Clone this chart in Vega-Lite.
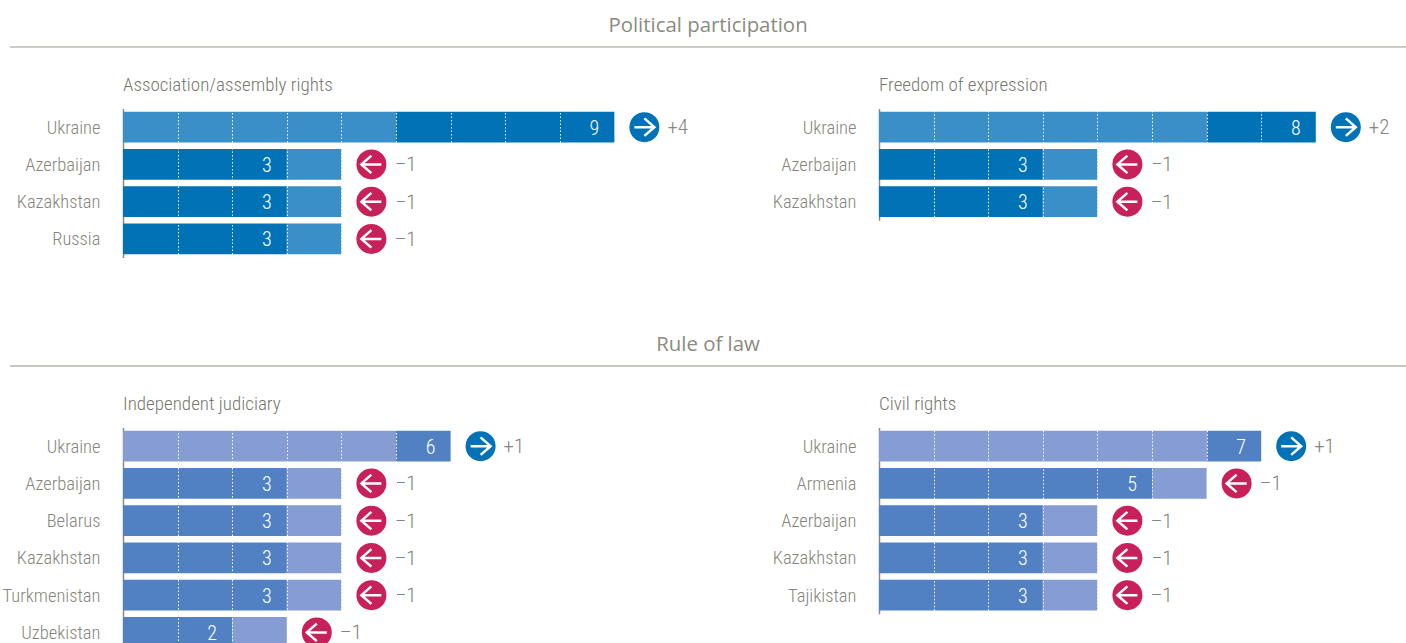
{"$schema":"https://vega.github.io/schema/vega-lite/v6.json","background":"white","padding":{"left":1,"top":0,"right":0,"bottom":0},"bounds":"flush","align":"each","columns":2,"spacing":{"row":61.5,"column":0},"config":{"view":{"stroke":null}},
"datasets":{
"assoc":[
{"country":"Ukraine","score":9,"changeLabel":"+4","lightFrom":0,"lightTo":5,"darkFrom":5,"darkTo":9,"end":9,"direction":"up"},
{"country":"Azerbaijan","score":3,"changeLabel":"–1","lightFrom":3,"lightTo":4,"darkFrom":0,"darkTo":3,"end":4,"direction":"down"},
{"country":"Kazakhstan","score":3,"changeLabel":"–1","lightFrom":3,"lightTo":4,"darkFrom":0,"darkTo":3,"end":4,"direction":"down"},
{"country":"Russia","score":3,"changeLabel":"–1","lightFrom":3,"lightTo":4,"darkFrom":0,"darkTo":3,"end":4,"direction":"down"}],
"expr":[
{"country":"Ukraine","score":8,"changeLabel":"+2","lightFrom":0,"lightTo":6,"darkFrom":6,"darkTo":8,"end":8,"direction":"up"},
{"country":"Azerbaijan","score":3,"changeLabel":"–1","lightFrom":3,"lightTo":4,"darkFrom":0,"darkTo":3,"end":4,"direction":"down"},
{"country":"Kazakhstan","score":3,"changeLabel":"–1","lightFrom":3,"lightTo":4,"darkFrom":0,"darkTo":3,"end":4,"direction":"down"}],
"jud":[
{"country":"Ukraine","score":6,"changeLabel":"+1","lightFrom":0,"lightTo":5,"darkFrom":5,"darkTo":6,"end":6,"direction":"up"},
{"country":"Azerbaijan","score":3,"changeLabel":"–1","lightFrom":3,"lightTo":4,"darkFrom":0,"darkTo":3,"end":4,"direction":"down"},
{"country":"Belarus","score":3,"changeLabel":"–1","lightFrom":3,"lightTo":4,"darkFrom":0,"darkTo":3,"end":4,"direction":"down"},
{"country":"Kazakhstan","score":3,"changeLabel":"–1","lightFrom":3,"lightTo":4,"darkFrom":0,"darkTo":3,"end":4,"direction":"down"},
{"country":"Turkmenistan","score":3,"changeLabel":"–1","lightFrom":3,"lightTo":4,"darkFrom":0,"darkTo":3,"end":4,"direction":"down"},
{"country":"Uzbekistan","score":2,"changeLabel":"–1","lightFrom":2,"lightTo":3,"darkFrom":0,"darkTo":2,"end":3,"direction":"down"}],
"civil":[
{"country":"Ukraine","score":7,"changeLabel":"+1","lightFrom":0,"lightTo":6,"darkFrom":6,"darkTo":7,"end":7,"direction":"up"},
{"country":"Armenia","score":5,"changeLabel":"–1","lightFrom":5,"lightTo":6,"darkFrom":0,"darkTo":5,"end":6,"direction":"down"},
{"country":"Azerbaijan","score":3,"changeLabel":"–1","lightFrom":3,"lightTo":4,"darkFrom":0,"darkTo":3,"end":4,"direction":"down"},
{"country":"Kazakhstan","score":3,"changeLabel":"–1","lightFrom":3,"lightTo":4,"darkFrom":0,"darkTo":3,"end":4,"direction":"down"},
{"country":"Tajikistan","score":3,"changeLabel":"–1","lightFrom":3,"lightTo":4,"darkFrom":0,"darkTo":3,"end":4,"direction":"down"}]
},
"concat":[
{"width":756,"height":47,"data":{"values":[{"section":"Political participation"}]},"layer":[
{"mark":{"type":"rule","color":"#9b9b92","strokeWidth":1.2},"encoding":{"y":{"datum":0,"type":"quantitative","scale":{"domain":[0,1]},"axis":null}}},
{"mark":{"type":"text","font":"Open Sans","fontSize":20.4,"color":"#8b8b80","align":"center","baseline":"middle"},"encoding":{"text":{"field":"section"},"x":{"datum":0.9233,"type":"quantitative","scale":{"domain":[0,1]},"axis":null},"y":{"datum":0.45,"type":"quantitative","scale":{"domain":[0,1]},"axis":null}}}]},
{"width":640,"height":47,"data":{"values":[{"section":"Political participation"}]},"mark":{"type":"rule","color":"#9b9b92","strokeWidth":1.2},"encoding":{"y":{"datum":0,"type":"quantitative","scale":{"domain":[0,1]},"axis":null}}},
{"width":756,"height":149,"data":{"name":"assoc"},"title":{"text":"Association/assembly rights","anchor":"start","frame":"group","dx":113,"offset":14,"font":"Roboto Condensed","fontSize":19,"fontWeight":300,"color":"#77776d"},
"encoding":{"y":{"field":"country","type":"nominal","sort":null,"title":null,"scale":{"paddingInner":0.168,"paddingOuter":0.084},"axis":{"offset":-113,"tickSize":0,"labelPadding":23,"labelOffset":0.5,"labelFont":"Roboto Condensed","labelFontWeight":300,"labelFontSize":18.5,"labelColor":"#85857b","domainColor":"#8a8a80","domainWidth":1.5}}},
"layer":[
{"mark":{"type":"bar","color":"#3a8fc9"},"encoding":{"x":{"field":"lightFrom","type":"quantitative","title":null,"scale":{"domain":[-2.0696,11.777],"nice":false,"zero":false},"axis":{"values":[1,2,3,4,5,6,7,8],"labels":false,"ticks":false,"domain":false,"grid":true,"gridColor":"white","gridDash":[1.5,2],"gridWidth":1,"zindex":1}},"x2":{"field":"lightTo"}}},
{"mark":{"type":"bar","color":"#0072b5"},"encoding":{"x":{"field":"darkFrom","type":"quantitative"},"x2":{"field":"darkTo"}}},
{"mark":{"type":"text","color":"white","font":"Roboto Condensed","fontWeight":300,"fontSize":20,"xOffset":-20,"yOffset":1.5,"align":"center","baseline":"middle"},"encoding":{"x":{"field":"score","type":"quantitative"},"text":{"field":"score"}}},
{"mark":{"type":"circle","size":900,"opacity":1,"xOffset":30},"encoding":{"x":{"field":"end","type":"quantitative"},"color":{"field":"direction","type":"nominal","scale":{"domain":["up","down"],"range":["#0072b5","#c8215a"]},"legend":null}}},
{"mark":{"type":"point","size":400,"filled":false,"stroke":"white","strokeWidth":2.5,"opacity":1,"xOffset":30},"encoding":{"x":{"field":"end","type":"quantitative"},"shape":{"field":"direction","type":"nominal","scale":{"domain":["up","down"],"range":["M-1,0L0.95,0M0,-0.88L1,0L0,0.88","M1,0L-0.95,0M0,-0.88L-1,0L0,0.88"]},"legend":null}}},
{"mark":{"type":"text","color":"#85857b","font":"Roboto Condensed","fontWeight":300,"fontSize":21,"xOffset":53,"yOffset":1,"align":"left","baseline":"middle"},"encoding":{"x":{"field":"end","type":"quantitative"},"text":{"field":"changeLabel"}}}]},
{"width":640,"height":111.75,"data":{"name":"expr"},"title":{"text":"Freedom of expression","anchor":"start","frame":"group","dx":113,"offset":14,"font":"Roboto Condensed","fontSize":19,"fontWeight":300,"color":"#77776d"},
"encoding":{"y":{"field":"country","type":"nominal","sort":null,"title":null,"scale":{"paddingInner":0.168,"paddingOuter":0.084},"axis":{"offset":-113,"tickSize":0,"labelPadding":23,"labelOffset":0.5,"labelFont":"Roboto Condensed","labelFontWeight":300,"labelFontSize":18.5,"labelColor":"#85857b","domainColor":"#8a8a80","domainWidth":1.5}}},
"layer":[
{"mark":{"type":"bar","color":"#3a8fc9"},"encoding":{"x":{"field":"lightFrom","type":"quantitative","title":null,"scale":{"domain":[-2.0696,9.652],"nice":false,"zero":false},"axis":{"values":[1,2,3,4,5,6,7],"labels":false,"ticks":false,"domain":false,"grid":true,"gridColor":"white","gridDash":[1.5,2],"gridWidth":1,"zindex":1}},"x2":{"field":"lightTo"}}},
{"mark":{"type":"bar","color":"#0072b5"},"encoding":{"x":{"field":"darkFrom","type":"quantitative"},"x2":{"field":"darkTo"}}},
{"mark":{"type":"text","color":"white","font":"Roboto Condensed","fontWeight":300,"fontSize":20,"xOffset":-20,"yOffset":1.5,"align":"center","baseline":"middle"},"encoding":{"x":{"field":"score","type":"quantitative"},"text":{"field":"score"}}},
{"mark":{"type":"circle","size":900,"opacity":1,"xOffset":30},"encoding":{"x":{"field":"end","type":"quantitative"},"color":{"field":"direction","type":"nominal","scale":{"domain":["up","down"],"range":["#0072b5","#c8215a"]},"legend":null}}},
{"mark":{"type":"point","size":400,"filled":false,"stroke":"white","strokeWidth":2.5,"opacity":1,"xOffset":30},"encoding":{"x":{"field":"end","type":"quantitative"},"shape":{"field":"direction","type":"nominal","scale":{"domain":["up","down"],"range":["M-1,0L0.95,0M0,-0.88L1,0L0,0.88","M1,0L-0.95,0M0,-0.88L-1,0L0,0.88"]},"legend":null}}},
{"mark":{"type":"text","color":"#85857b","font":"Roboto Condensed","fontWeight":300,"fontSize":21,"xOffset":53,"yOffset":1,"align":"left","baseline":"middle"},"encoding":{"x":{"field":"end","type":"quantitative"},"text":{"field":"changeLabel"}}}]},
{"width":756,"height":47,"data":{"values":[{"section":"Rule of law"}]},"layer":[
{"mark":{"type":"rule","color":"#8d8d84","strokeWidth":1.2},"encoding":{"y":{"datum":0,"type":"quantitative","scale":{"domain":[0,1]},"axis":null}}},
{"mark":{"type":"text","font":"Open Sans","fontSize":20.4,"color":"#8b8b80","align":"center","baseline":"middle"},"encoding":{"text":{"field":"section"},"x":{"datum":0.9233,"type":"quantitative","scale":{"domain":[0,1]},"axis":null},"y":{"datum":0.45,"type":"quantitative","scale":{"domain":[0,1]},"axis":null}}}]},
{"width":640,"height":47,"data":{"values":[{"section":"Rule of law"}]},"mark":{"type":"rule","color":"#8d8d84","strokeWidth":1.2},"encoding":{"y":{"datum":0,"type":"quantitative","scale":{"domain":[0,1]},"axis":null}}},
{"width":756,"height":223.5,"data":{"name":"jud"},"title":{"text":"Independent judiciary","anchor":"start","frame":"group","dx":113,"offset":14,"font":"Roboto Condensed","fontSize":19,"fontWeight":300,"color":"#77776d"},
"encoding":{"y":{"field":"country","type":"nominal","sort":null,"title":null,"scale":{"paddingInner":0.168,"paddingOuter":0.084},"axis":{"offset":-113,"tickSize":0,"labelPadding":23,"labelOffset":0.5,"labelFont":"Roboto Condensed","labelFontWeight":300,"labelFontSize":18.5,"labelColor":"#85857b","domainColor":"#8a8a80","domainWidth":1.5}}},
"layer":[
{"mark":{"type":"bar","color":"#859dd2"},"encoding":{"x":{"field":"lightFrom","type":"quantitative","title":null,"scale":{"domain":[-2.0696,11.777],"nice":false,"zero":false},"axis":{"values":[1,2,3,4,5],"labels":false,"ticks":false,"domain":false,"grid":true,"gridColor":"white","gridDash":[1.5,2],"gridWidth":1,"zindex":1}},"x2":{"field":"lightTo"}}},
{"mark":{"type":"bar","color":"#5181c3"},"encoding":{"x":{"field":"darkFrom","type":"quantitative"},"x2":{"field":"darkTo"}}},
{"mark":{"type":"text","color":"white","font":"Roboto Condensed","fontWeight":300,"fontSize":20,"xOffset":-20,"yOffset":1.5,"align":"center","baseline":"middle"},"encoding":{"x":{"field":"score","type":"quantitative"},"text":{"field":"score"}}},
{"mark":{"type":"circle","size":900,"opacity":1,"xOffset":30},"encoding":{"x":{"field":"end","type":"quantitative"},"color":{"field":"direction","type":"nominal","scale":{"domain":["up","down"],"range":["#0072b5","#c8215a"]},"legend":null}}},
{"mark":{"type":"point","size":400,"filled":false,"stroke":"white","strokeWidth":2.5,"opacity":1,"xOffset":30},"encoding":{"x":{"field":"end","type":"quantitative"},"shape":{"field":"direction","type":"nominal","scale":{"domain":["up","down"],"range":["M-1,0L0.95,0M0,-0.88L1,0L0,0.88","M1,0L-0.95,0M0,-0.88L-1,0L0,0.88"]},"legend":null}}},
{"mark":{"type":"text","color":"#85857b","font":"Roboto Condensed","fontWeight":300,"fontSize":21,"xOffset":53,"yOffset":1,"align":"left","baseline":"middle"},"encoding":{"x":{"field":"end","type":"quantitative"},"text":{"field":"changeLabel"}}}]},
{"width":640,"height":186.25,"data":{"name":"civil"},"title":{"text":"Civil rights","anchor":"start","frame":"group","dx":113,"offset":14,"font":"Roboto Condensed","fontSize":19,"fontWeight":300,"color":"#77776d"},
"encoding":{"y":{"field":"country","type":"nominal","sort":null,"title":null,"scale":{"paddingInner":0.168,"paddingOuter":0.084},"axis":{"offset":-113,"tickSize":0,"labelPadding":23,"labelOffset":0.5,"labelFont":"Roboto Condensed","labelFontWeight":300,"labelFontSize":18.5,"labelColor":"#85857b","domainColor":"#8a8a80","domainWidth":1.5}}},
"layer":[
{"mark":{"type":"bar","color":"#859dd2"},"encoding":{"x":{"field":"lightFrom","type":"quantitative","title":null,"scale":{"domain":[-2.0696,9.652],"nice":false,"zero":false},"axis":{"values":[1,2,3,4,5,6],"labels":false,"ticks":false,"domain":false,"grid":true,"gridColor":"white","gridDash":[1.5,2],"gridWidth":1,"zindex":1}},"x2":{"field":"lightTo"}}},
{"mark":{"type":"bar","color":"#5181c3"},"encoding":{"x":{"field":"darkFrom","type":"quantitative"},"x2":{"field":"darkTo"}}},
{"mark":{"type":"text","color":"white","font":"Roboto Condensed","fontWeight":300,"fontSize":20,"xOffset":-20,"yOffset":1.5,"align":"center","baseline":"middle"},"encoding":{"x":{"field":"score","type":"quantitative"},"text":{"field":"score"}}},
{"mark":{"type":"circle","size":900,"opacity":1,"xOffset":30},"encoding":{"x":{"field":"end","type":"quantitative"},"color":{"field":"direction","type":"nominal","scale":{"domain":["up","down"],"range":["#0072b5","#c8215a"]},"legend":null}}},
{"mark":{"type":"point","size":400,"filled":false,"stroke":"white","strokeWidth":2.5,"opacity":1,"xOffset":30},"encoding":{"x":{"field":"end","type":"quantitative"},"shape":{"field":"direction","type":"nominal","scale":{"domain":["up","down"],"range":["M-1,0L0.95,0M0,-0.88L1,0L0,0.88","M1,0L-0.95,0M0,-0.88L-1,0L0,0.88"]},"legend":null}}},
{"mark":{"type":"text","color":"#85857b","font":"Roboto Condensed","fontWeight":300,"fontSize":21,"xOffset":53,"yOffset":1,"align":"left","baseline":"middle"},"encoding":{"x":{"field":"end","type":"quantitative"},"text":{"field":"changeLabel"}}}]}
]}
